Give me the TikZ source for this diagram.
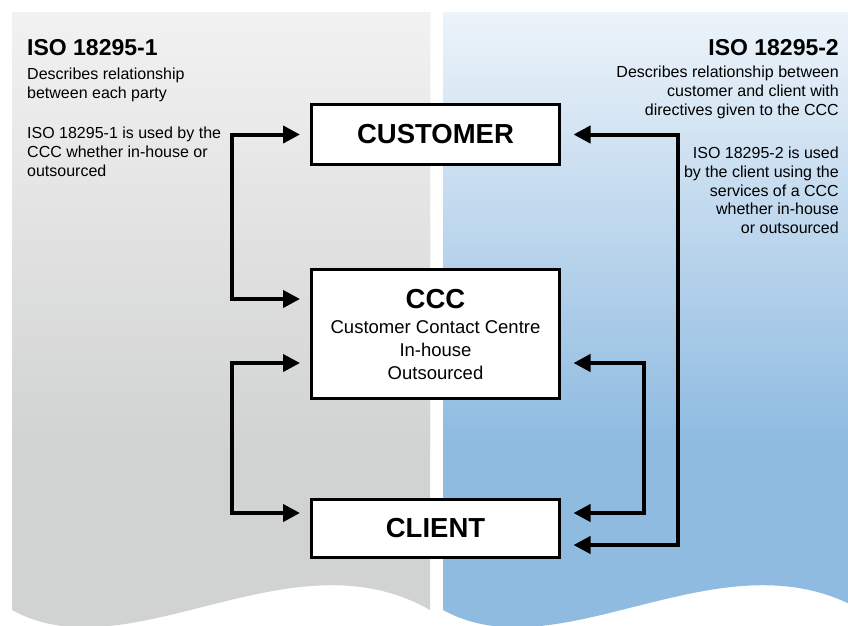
\documentclass[tikz,border=0pt]{standalone}
\usepackage{fontspec}
\setmainfont{Liberation Sans}
\usetikzlibrary{arrows.meta}
\definecolor{greytop}{HTML}{F2F2F2}
\definecolor{greymid}{HTML}{E1E2E2}
\definecolor{greybot}{HTML}{D1D2D2}
\definecolor{bluetop}{HTML}{EDF4FA}
\definecolor{bluemid}{HTML}{AED0EB}
\definecolor{bluebot}{HTML}{8FBBE1}
\begin{document}
\begin{tikzpicture}[x=1pt,y=-1pt,
  title/.style={font=\fontsize{23}{26}\selectfont\bfseries, inner sep=0pt, text=black},
  body/.style={font=\fontsize{16}{18.7}\selectfont, inner sep=0pt, text=black},
  box/.style={draw=black, line width=3pt, fill=white, minimum width=248pt, inner sep=0pt, text=black},
  bigbold/.style={font=\fontsize{27.5}{30}\selectfont\bfseries},
  conn/.style={line width=4pt, line join=miter, {Triangle[length=17pt,width=17pt]}-{Triangle[length=17pt,width=17pt]}}]
\useasboundingbox (0,0) rectangle (848,625);
\begin{scope}
  \clip (0,0) rectangle (848,625);
  % left panel
  \fill[greybot] (12,12) -- (430,12) -- (430,610) .. controls (290,530) and (130,675) .. (12,610) -- cycle;
  \shade[top color=greytop, middle color=greymid, bottom color=greybot] (12,12) rectangle (430,450);
  % right panel
  \fill[bluebot] (443,12) -- (861,12) -- (861,610) .. controls (721,530) and (561,675) .. (443,610) -- cycle;
  \shade[top color=bluetop, middle color=bluemid, bottom color=bluebot] (443,12) rectangle (861,440);
\end{scope}

% texts left
\node[title, anchor=base west] (t1) at (27,55) {ISO 18295-1};
\node[body, anchor=north west, align=left] (d1) at (27,67.8) {Describes relationship\\between each party};
\node[body, anchor=north west, align=left] (u1) at (27,126.8) {ISO 18295-1 is used by the\\CCC whether in-house or\\outsourced};

% texts right
\node[title, anchor=base east] (t2) at (839,55) {ISO 18295-2};
\node[body, anchor=north east, align=right] (d2) at (839,66) {Describes relationship between\\customer and client with\\directives given to the CCC};
\node[body, anchor=north east, align=right] (u2) at (839,146.8) {ISO 18295-2 is used\\by the client using the\\services of a CCC\\whether in-house\\or outsourced};

% boxes
\node[box, bigbold, minimum height=60pt] (customer) at (435.5,134.5) {CUSTOMER};
\node[box, minimum height=129pt, align=center, font=\fontsize{18.5}{23}\selectfont] (ccc) at (435.5,334)
  {{\fontsize{27.5}{30}\selectfont\bfseries CCC}\\[2pt]Customer Contact Centre\\In-house\\Outsourced};
\node[box, bigbold, minimum height=58pt] (client) at (435.5,528.5) {CLIENT};

% connectors
\draw[conn] ([xshift=-10pt]customer.west) -- ++(-68pt,0pt) |- ([xshift=-10pt,yshift=35pt]ccc.west);
\draw[conn] ([xshift=-10pt,yshift=-29pt]ccc.west) -- ++(-68pt,0pt) |- ([xshift=-10pt,yshift=15.5pt]client.west);
\draw[conn] ([xshift=12.5pt]customer.east) -- ++(104pt,0pt) |- ([xshift=12.5pt,yshift=-16.5pt]client.east);
\draw[conn] ([xshift=12.5pt,yshift=-29pt]ccc.east) -- ++(70pt,0pt) |- ([xshift=12.5pt,yshift=15.5pt]client.east);
\end{tikzpicture}
\end{document}
